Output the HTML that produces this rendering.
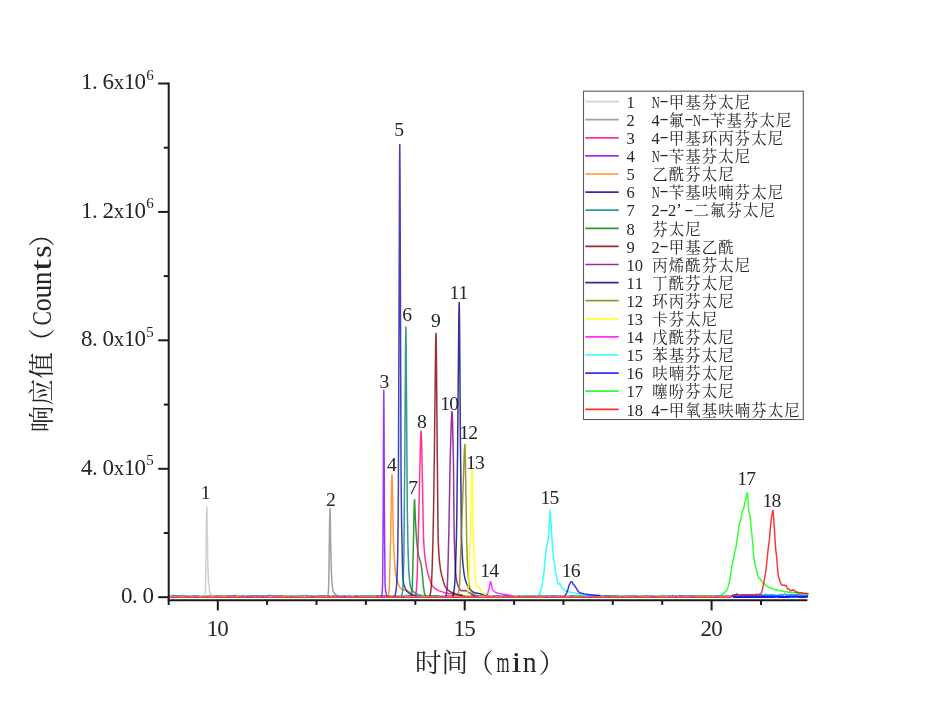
<!DOCTYPE html>
<html lang="zh-CN">
<head>
<meta charset="utf-8">
<title>芬太尼类物质色谱图</title>
<style>
html,body{margin:0;padding:0;background:#ffffff;}
body{width:941px;height:720px;overflow:hidden;}
svg{display:block;filter:blur(0.4px);}
text{white-space:pre;}
</style>
</head>
<body>
<svg width="941" height="720" viewBox="0 0 941 720">
<g fill="none" stroke-linejoin="round" stroke-linecap="round" stroke-width="1.5" stroke-opacity="0.8">
<path d="M176.5 595.8 L179.7 595.7 M206.7 596.3 L210.3 595.6 M269.6 595.4 L273.4 595.7 M276.2 595.7 L279.7 595.9 M290.5 595.9 L294.8 595.9 M294.5 595.9 L297.5 595.9 M297.2 595.9 L300.9 595.7 M300.6 595.7 L303.9 595.6 M311.0 596.0 L313.6 596.1 M345.1 596.2 L349.7 595.6 M362.4 595.7 L366.4 595.6 M366.1 595.6 L370.1 595.7 M369.8 595.7 L374.0 595.8 M373.7 595.8 L377.1 596.0 M383.9 595.7 L387.4 596.0 M388.7 596.0 L393.3 596.0 M396.5 596.2 L398.9 595.9 M402.5 596.2 L406.8 595.5 M406.5 595.5 L409.3 595.6 M412.4 595.5 L416.8 595.9 M416.5 595.9 L418.6 595.9 M418.3 595.9 L420.7 595.5 M431.3 595.7 L435.3 595.7 M451.5 595.8 L453.7 595.8 M471.5 595.9 L473.7 596.0 M477.7 595.9 L480.4 595.7 M480.1 595.7 L482.4 595.6 M482.1 595.6 L486.6 595.6 M491.9 595.9 L494.8 595.9 M497.6 595.6 L500.2 595.8 M527.3 596.0 L530.3 595.8 M530.0 595.8 L534.0 596.0 M537.9 595.8 L540.1 595.5 M539.8 595.5 L542.1 595.7 M555.5 595.9 L558.0 595.8 M557.7 595.8 L560.9 595.9 M574.8 595.7 L578.1 596.1 M579.8 595.7 L582.2 595.9 M596.4 595.9 L601.0 595.6 M600.7 595.6 L605.4 595.8 M608.1 595.8 L610.0 596.3 M611.4 595.7 L614.6 595.8 M621.9 596.1 L625.9 595.8 M625.6 595.8 L627.9 595.8 M627.6 595.8 L632.2 595.6 M631.9 595.6 L634.7 595.8 M644.2 595.8 L648.1 595.6 M654.1 596.1 L658.0 596.1 M660.8 595.6 L664.8 595.8 M664.5 595.8 L669.2 595.9 M676.2 596.1 L679.7 595.6 M691.6 596.0 L694.7 595.7 M694.4 595.7 L697.9 596.0 M697.6 596.0 L700.8 595.7 M704.0 595.8 L707.1 595.8 M710.5 595.8 L713.7 595.9 M713.4 595.9 L716.2 595.7 M718.5 596.0 L721.7 595.5 M726.2 595.6 L730.0 595.9" stroke="#2f8f8a" stroke-width="1.45"/>
<path d="M193.7 595.8 L198.1 595.9 M233.5 595.7 L236.2 595.5 M239.4 596.1 L244.0 595.8 M246.9 596.2 L251.5 595.8 M256.5 595.8 L259.5 596.0 M259.2 596.0 L263.6 596.0 M336.9 595.8 L340.8 596.1 M343.0 595.8 L345.4 596.2 M354.5 595.8 L357.2 596.0 M380.7 596.0 L384.2 595.7 M387.1 596.0 L389.0 596.0 M409.0 595.6 L412.7 595.5 M435.0 595.7 L439.4 595.9 M439.1 595.9 L442.9 596.3 M460.5 595.5 L463.1 595.7 M473.4 596.0 L478.0 595.9 M505.7 595.7 L509.4 596.2 M605.1 595.8 L608.4 595.8 M650.6 596.0 L654.4 596.1 M687.4 595.6 L691.9 596.0" stroke="#3050d0" stroke-width="1.45"/>
<path d="M169.5 595.9 L173.2 595.5 M212.6 595.8 L216.9 595.8 M243.7 595.8 L247.2 596.2 M266.5 595.8 L268.3 595.6 M286.2 596.0 L290.8 595.9 M307.8 596.0 L311.3 596.0 M324.1 595.7 L328.5 595.7 M420.4 595.5 L424.1 595.5 M462.8 595.7 L464.8 595.9 M467.8 596.1 L471.8 595.9 M519.3 595.8 L523.4 596.0 M525.7 595.7 L527.6 596.0 M541.8 595.7 L546.0 596.0 M563.0 596.1 L566.2 596.1 M565.9 596.1 L570.7 596.0 M581.9 595.9 L584.5 595.9 M594.5 596.0 L596.7 595.9 M609.7 596.3 L611.7 595.7 M618.3 595.9 L622.2 596.1 M684.2 595.7 L687.7 595.6" stroke="#40b040" stroke-width="1.45"/>
<path d="M174.8 595.6 L176.8 595.8 M179.4 595.7 L183.1 595.5 M216.6 595.8 L221.3 595.7 M226.4 595.7 L229.4 596.0 M251.2 595.8 L253.5 595.8 M263.3 596.0 L266.8 595.8 M273.1 595.7 L276.5 595.7 M305.7 595.4 L308.1 596.0 M328.2 595.7 L330.2 596.1 M457.4 595.4 L460.8 595.5 M486.3 595.6 L488.4 596.1 M517.3 595.9 L519.6 595.8 M533.7 596.0 L538.2 595.8 M553.4 595.8 L555.8 595.9 M560.6 595.9 L563.3 596.1 M590.3 596.0 L594.8 596.0 M637.4 596.1 L642.1 595.9 M668.9 595.9 L672.8 595.8 M681.0 595.8 L684.5 595.7 M715.9 595.7 L718.8 596.0 M723.0 596.1 L726.5 595.6" stroke="#6868c8" stroke-width="1.45"/>
<path d="M182.8 595.5 L185.3 595.9 M203.6 596.0 L207.0 596.3 M210.0 595.6 L212.9 595.8 M221.0 595.7 L224.7 595.8 M224.4 595.8 L226.7 595.7 M235.9 595.5 L239.7 596.1 M282.0 595.8 L286.5 596.0 M329.9 596.1 L333.3 595.9 M351.2 596.1 L354.8 595.8 M393.0 596.0 L396.8 596.2 M398.6 595.9 L402.8 596.2 M423.8 595.5 L427.6 595.8 M448.1 595.6 L451.8 595.8 M453.4 595.8 L457.7 595.4 M488.1 596.1 L492.2 595.9 M513.4 596.0 L517.6 595.9 M572.6 595.8 L575.1 595.7 M577.8 596.1 L580.1 595.7 M584.2 595.9 L587.5 595.8 M641.8 595.9 L644.5 595.8 M657.7 596.1 L661.1 595.6 M700.5 595.7 L704.3 595.8 M706.8 595.8 L710.8 595.8" stroke="#80a040" stroke-width="1.45"/>
<path d="M187.1 596.1 L190.0 595.8 M189.7 595.8 L194.0 595.8 M197.8 595.9 L202.2 596.1 M201.9 596.1 L203.9 596.0 M303.6 595.6 L306.0 595.4 M340.5 596.1 L343.3 595.8 M349.4 595.6 L351.5 596.1 M360.3 595.9 L362.7 595.7 M378.4 595.8 L381.0 596.0 M427.3 595.8 L431.6 595.7 M442.6 596.3 L446.1 595.8 M499.9 595.8 L503.9 595.8 M509.1 596.2 L513.7 596.0 M523.1 596.0 L526.0 595.7 M647.8 595.6 L650.9 596.0 M721.4 595.5 L723.3 596.1 M729.7 595.9 L732.8 595.7 M732.5 595.7 L733.0 595.9" stroke="#40a0c0" stroke-width="1.45"/>
<path d="M172.9 595.5 L175.1 595.6 M185.0 595.9 L187.4 596.1 M229.1 596.0 L233.8 595.7 M253.2 595.8 L256.8 595.8 M268.0 595.6 L269.9 595.4 M279.4 595.9 L282.3 595.8 M313.3 596.1 L318.1 595.8 M317.8 595.8 L321.1 595.7 M320.8 595.7 L324.4 595.7 M333.0 595.9 L337.2 595.8 M356.9 596.0 L360.6 595.9 M376.8 596.0 L378.7 595.8 M445.8 595.8 L448.4 595.6 M464.5 595.9 L468.1 596.1 M494.5 595.9 L497.9 595.6 M503.6 595.8 L506.0 595.7 M545.7 596.0 L550.5 595.8 M550.2 595.8 L553.7 595.8 M570.4 596.0 L572.9 595.8 M587.2 595.8 L590.6 596.0 M614.3 595.8 L618.6 595.9 M634.4 595.8 L637.7 596.1 M672.5 595.8 L676.5 596.1 M679.4 595.6 L681.3 595.8" stroke="#3c6cc0" stroke-width="1.45"/>
<path d="M204.6 595.6 L204.8 595.3 L205.0 594.4 L205.4 591.6 L205.6 586.2 L206.4 527.3 L206.8 507.1 L207.0 508.7 L207.4 539.6 L207.8 561.9 L208.0 569.6 L208.6 582.5 L209.2 588.7 L209.6 591.1 L210.0 592.6 L210.6 593.9 L211.4 594.9 L212.2 595.4 L213.0 595.6" stroke="#c4c4c4"/>
<path d="M327.6 595.6 L327.8 595.4 L328.2 593.7 L328.4 592.3 L328.6 589.9 L329.0 568.3 L329.6 522.5 L329.8 512.4 L330.0 508.5 L330.2 514.5 L330.6 539.6 L331.2 566.7 L331.6 576.3 L332.2 585.4 L332.6 588.2 L333.0 590.2 L333.4 591.6 L333.8 592.5 L334.6 593.7 L335.6 594.8 L336.8 595.3 L338.0 595.6" stroke="#8a8a8a"/>
<path d="M381.6 595.6 L381.8 595.2 L382.0 594.0 L382.4 589.2 L382.6 583.8 L382.8 566.2 L383.2 511.6 L383.6 413.6 L383.8 390.2 L384.0 413.7 L384.4 511.7 L385.0 580.9 L385.2 586.3 L385.6 590.8 L386.2 593.9 L386.6 595.2 L386.8 595.6" stroke="#8000ff"/>
<path d="M388.4 595.6 L388.6 595.1 L389.0 591.5 L389.4 585.9 L389.6 580.8 L390.8 529.9 L391.6 484.0 L391.8 477.0 L392.0 474.4 L392.2 477.3 L392.4 485.1 L393.2 532.0 L393.6 544.7 L394.0 553.0 L394.8 565.4 L395.4 571.9 L396.0 575.6 L396.8 579.3 L397.8 582.5 L399.0 585.7 L399.6 586.9 L400.2 587.8 L401.4 588.8 L403.0 589.6 L405.0 590.4 L407.8 591.1 L409.2 591.6 L410.0 592.2 L412.0 594.1 L414.0 595.6" stroke="#ff8000"/>
<path d="M394.8 595.6 L395.0 595.4 L395.4 594.3 L396.0 591.0 L396.4 587.8 L396.8 581.8 L397.2 572.5 L397.6 559.6 L398.0 532.9 L398.4 483.8 L399.6 164.4 L399.8 144.4 L400.0 170.6 L401.0 463.8 L401.2 490.7 L401.6 523.1 L402.4 563.3 L402.8 576.5 L403.0 579.6 L403.4 582.3 L403.8 584.2 L405.2 588.2 L405.8 589.5 L406.4 590.5 L407.2 591.5 L408.0 592.3 L408.8 593.0 L410.0 593.7 L411.2 594.2 L413.2 594.9 L414.6 595.3 L416.0 595.6" stroke="#1010b0"/>
<path d="M401.5 595.6 L401.7 595.4 L402.1 594.2 L402.5 591.9 L402.9 588.5 L403.3 579.5 L403.9 553.7 L404.7 467.9 L405.5 352.4 L405.7 334.0 L405.9 327.1 L406.1 338.2 L407.3 509.6 L407.9 544.6 L408.5 563.8 L408.9 572.2 L409.5 579.3 L410.1 584.3 L410.7 587.2 L411.5 589.1 L412.1 590.1 L412.9 591.1 L413.9 592.1 L415.1 593.0 L416.3 593.7 L418.1 594.6 L419.5 595.2 L420.9 595.6" stroke="#008080"/>
<path d="M411.2 595.6 L411.4 595.2 L411.8 592.3 L412.2 587.6 L412.4 583.7 L413.4 544.6 L414.2 505.2 L414.4 499.9 L414.6 499.7 L415.4 519.6 L416.0 530.8 L416.6 539.6 L417.4 547.9 L418.0 552.6 L418.4 554.9 L418.8 556.5 L419.8 559.4 L420.2 560.9 L420.8 563.4 L421.4 566.6 L422.4 574.6 L423.2 584.2 L423.6 588.0 L424.4 592.6 L425.0 594.7 L425.4 595.6" stroke="#008000"/>
<path d="M415.4 595.6 L415.6 595.3 L416.0 593.2 L416.6 587.6 L416.8 584.7 L417.2 574.9 L418.4 532.0 L420.4 446.2 L420.8 433.9 L421.0 431.0 L421.2 431.1 L421.6 441.7 L422.6 489.5 L423.2 524.6 L423.6 539.6 L424.2 549.0 L425.0 557.4 L425.6 561.8 L426.4 566.6 L427.8 573.2 L428.6 576.1 L429.8 579.8 L430.8 582.5 L431.8 584.8 L432.6 586.1 L433.4 587.1 L434.4 588.0 L435.8 589.1 L437.6 590.1 L439.4 590.9 L442.2 591.9 L445.0 592.7 L448.2 593.4 L454.4 594.3 L462.0 595.6" stroke="#ff0080"/>
<path d="M429.8 595.6 L430.0 595.4 L430.2 594.8 L430.8 591.1 L431.2 587.6 L431.6 582.0 L432.2 567.2 L433.0 539.6 L433.6 507.6 L434.4 452.4 L435.6 346.1 L435.8 336.6 L436.0 333.2 L436.2 338.8 L436.4 353.8 L437.2 449.6 L438.0 529.6 L438.2 539.6 L438.6 548.5 L439.0 555.4 L439.6 562.6 L440.6 570.0 L441.6 574.9 L444.2 584.3 L444.8 585.7 L446.0 587.7 L447.0 589.0 L448.2 590.3 L449.4 591.2 L450.8 592.0 L452.6 592.8 L456.6 594.1 L459.4 595.0 L462.0 595.6" stroke="#800000"/>
<path d="M445.9 595.6 L446.1 595.4 L446.5 593.6 L447.1 588.6 L447.3 586.4 L447.7 577.3 L448.9 530.5 L450.1 463.5 L451.3 421.6 L451.7 413.5 L451.9 411.6 L452.1 411.8 L452.5 419.6 L453.3 454.5 L453.5 466.0 L454.1 527.0 L454.3 539.6 L455.1 562.5 L455.5 570.1 L456.1 577.2 L456.9 581.8 L457.3 583.5 L457.9 585.4 L458.5 586.8 L459.1 587.9 L459.9 589.1 L460.7 590.1 L461.3 590.6 L461.9 590.8 L465.3 590.6 L466.1 590.7 L466.9 591.1 L471.9 594.4 L473.5 595.1 L474.9 595.6" stroke="#800080"/>
<path d="M452.8 595.6 L453.0 595.4 L453.2 595.0 L453.8 592.0 L454.4 587.6 L454.8 583.0 L455.6 565.9 L456.4 539.6 L456.8 516.8 L457.6 449.6 L458.8 319.3 L459.0 307.0 L459.2 302.5 L459.4 309.4 L459.6 327.7 L460.4 439.1 L461.4 531.0 L461.6 539.6 L462.0 549.2 L462.6 559.8 L463.2 566.9 L464.2 574.6 L464.8 577.7 L465.4 580.1 L466.4 583.0 L467.6 585.8 L468.6 587.6 L469.8 589.0 L471.2 590.5 L472.4 591.4 L473.6 592.1 L475.0 592.7 L478.6 593.6 L489.0 595.6" stroke="#000080"/>
<path d="M457.9 595.6 L458.1 595.4 L458.3 594.8 L458.9 591.1 L459.3 587.6 L459.7 581.3 L463.1 487.0 L464.1 456.9 L464.5 448.1 L464.7 445.5 L464.9 444.6 L465.1 447.6 L465.3 455.5 L466.7 540.4 L467.3 559.9 L467.7 568.8 L468.1 574.9 L468.7 581.5 L469.1 584.6 L469.7 587.2 L470.5 589.6 L471.1 590.8 L471.7 591.8 L473.1 593.5 L473.9 594.1 L475.1 594.9 L476.1 595.4 L476.9 595.6" stroke="#808000"/>
<path d="M466.8 595.6 L467.0 595.4 L467.4 593.8 L468.2 587.6 L468.6 582.2 L469.0 573.8 L470.4 532.7 L471.4 485.1 L471.8 471.5 L472.0 468.3 L472.2 468.7 L472.4 474.7 L473.4 535.7 L473.8 549.2 L474.6 569.2 L475.0 574.7 L475.6 580.3 L476.2 584.1 L476.6 585.5 L477.0 586.3 L477.4 587.0 L477.8 587.2 L478.6 586.6 L478.8 586.6 L479.0 586.9 L481.0 591.2 L481.6 592.2 L483.0 593.4 L484.6 594.2 L487.0 595.1 L489.0 595.6" stroke="#ffff00"/>
<path d="M486.4 595.6 L486.8 595.1 L487.2 594.5 L488.0 592.5 L489.2 587.6 L490.2 582.5 L490.4 581.9 L490.6 581.7 L490.8 582.0 L491.0 582.7 L492.2 588.2 L492.6 589.6 L493.4 590.8 L494.6 591.8 L496.6 592.8 L498.8 593.4 L502.0 594.0 L507.4 594.7 L512.0 595.6" stroke="#ff00ff" stroke-width="1.45"/>
<path d="M537.6 595.5 L538.3 595.1 L539.0 594.1 L539.7 593.5 L540.4 591.3 L541.1 588.9 L541.8 585.8 L542.5 581.9 L543.9 572.8 L545.3 557.6 L546.0 550.7 L546.7 546.1 L547.4 544.0 L548.1 540.3 L548.8 534.1 L549.5 520.6 L550.2 510.1 L551.6 531.3 L552.3 544.0 L553.7 559.3 L554.4 563.6 L555.1 568.8 L555.8 572.3 L556.5 576.2 L557.2 580.7 L557.9 583.6 L558.6 584.2 L559.3 583.4 L560.0 583.3 L560.7 585.5 L561.4 586.9 L562.1 588.0 L562.8 588.8 L563.5 589.0 L564.2 589.8 L564.9 590.2 L565.6 590.9 L566.3 591.3 L567.0 591.2 L567.7 591.3 L568.4 591.7 L569.1 591.9 L569.8 592.0 L570.5 592.3 L571.2 592.3 L571.9 592.7 L572.6 592.7 L573.3 592.9 L574.7 593.0 L575.4 593.1 L576.1 593.3 L576.8 593.3 L577.5 593.6 L578.2 593.6 L578.9 593.6 L579.6 593.9 L580.3 593.8 L581.0 594.0 L581.7 594.1 L582.4 594.0 L583.1 594.4 L583.8 594.5 L585.2 594.6 L585.9 594.7 L586.6 594.7 L587.3 594.9 L588.0 594.9 L588.7 595.1 L589.4 595.0 L590.1 595.2 L590.8 595.3 L592.2 595.3 L592.9 595.5 L593.6 595.2 L594.3 595.6 L595.7 595.6" stroke="#00ffff" stroke-width="1.45"/>
<path d="M564.8 595.6 L565.5 594.9 L566.2 593.9 L566.9 592.5 L568.3 588.2 L569.0 585.3 L569.7 584.1 L570.4 582.6 L571.1 581.6 L572.5 582.3 L573.2 584.4 L573.9 585.1 L574.6 585.4 L575.3 587.2 L576.0 587.7 L578.1 591.3 L579.5 592.5 L580.2 592.9 L580.9 593.2 L581.6 593.2 L582.3 593.4 L583.0 593.5 L583.7 593.7 L584.4 593.9 L585.8 594.1 L586.5 594.3 L587.2 594.3 L588.6 594.6 L589.3 594.7 L590.0 594.8 L591.4 594.8 L592.1 594.9 L592.8 594.9 L593.5 594.9 L594.2 595.2 L594.9 595.2 L595.6 595.3 L596.3 595.1 L597.0 595.3 L598.4 595.4 L599.1 595.3 L599.8 595.6" stroke="#0000ff" stroke-width="1.45"/>
<path d="M733.0 595.4 L733.8 595.2 L734.6 594.7 L735.4 595.0 L736.2 595.4 L737.0 593.6 L737.8 594.9 L738.6 595.3 L739.4 595.3 L740.2 595.9 L741.0 595.6 L741.8 595.2 L742.6 595.2 L743.4 595.4 L744.2 594.7 L745.0 595.0 L745.8 595.5 L746.6 596.0 L747.4 594.9 L748.2 595.0 L749.0 595.1 L749.8 595.7 L750.6 595.0 L751.4 595.7 L752.2 594.5 L753.0 594.9 L753.8 594.9 L754.6 595.4 L755.4 595.5 L756.2 594.2 L757.0 594.5 L757.8 595.2 L758.6 594.7 L759.4 594.2 L760.2 595.5 L761.0 595.2 L761.8 595.2 L762.6 594.8 L763.4 595.5 L764.2 594.9 L765.0 595.5 L765.8 594.5 L766.6 594.6 L767.4 595.1 L768.2 594.6 L769.0 595.3 L769.8 595.1 L770.6 594.5 L771.4 595.0 L772.2 594.8 L773.0 595.5 L773.8 594.7 L774.6 594.8 L775.4 595.6 L776.2 596.1 L777.0 596.0 L777.8 595.0 L778.6 595.1 L779.4 595.8 L780.2 594.9 L781.0 594.5 L781.8 595.1 L782.6 595.2 L783.4 594.6 L784.2 594.2 L785.0 594.3 L785.8 595.3 L786.6 594.6 L787.4 594.9 L788.2 595.1 L789.0 595.3 L789.8 594.8 L790.6 595.2 L791.4 594.6 L792.2 594.8 L793.0 594.5 L793.8 595.6 L794.6 595.0 L795.4 594.6 L796.2 594.8 L797.0 594.9 L797.8 595.4 L798.6 594.2 L799.4 594.5 L800.2 594.8 L801.0 596.3 L801.8 595.5 L802.6 594.9 L803.4 595.4 L804.2 596.0 L805.0 594.9 L805.8 594.8 L806.6 595.6 L807.4 595.2" stroke="#28a0ff" stroke-width="1.6" stroke-opacity="1"/>
<path d="M733 597.0 733.0 596.9 L735.4 596.7 L737.8 597.0 L740.2 597.0 L742.6 596.9 L745.0 596.9 L747.4 596.6 L749.8 596.9 L752.2 596.8 L754.6 596.9 L757.0 596.9 L759.4 596.8 L761.8 596.6 L764.2 596.8 L766.6 596.7 L769.0 596.8 L771.4 596.7 L773.8 596.8 L776.2 596.5 L778.6 596.9 L781.0 596.8 L783.4 596.9 L785.8 597.0 L788.2 596.8 L790.6 596.6 L793.0 596.7 L795.4 596.7 L797.8 596.7 L800.2 596.8 L802.6 596.6 L805.0 596.8 L807.4 596.6 L808 596.8" stroke="#1414ff" stroke-width="2.2" stroke-opacity="1" stroke-linecap="butt"/>
<path d="M720.5 595.6 L722.6 594.3 L724.0 593.1 L724.7 592.2 L725.4 591.6 L726.1 591.1 L726.8 590.1 L727.5 588.6 L728.2 586.7 L728.9 583.3 L729.6 580.8 L730.3 576.0 L731.0 571.9 L731.7 567.4 L733.1 560.0 L733.8 557.0 L734.5 552.9 L735.2 549.8 L735.9 547.7 L736.6 542.3 L738.0 533.5 L738.7 527.9 L739.4 523.1 L740.1 522.2 L740.8 519.7 L741.5 515.3 L742.2 511.5 L742.9 510.6 L743.6 508.7 L744.3 505.6 L745.0 501.5 L745.7 500.5 L746.4 495.4 L747.1 492.7 L747.8 495.0 L748.5 507.3 L749.2 512.7 L749.9 515.3 L750.6 520.2 L751.3 529.1 L752.0 535.7 L752.7 543.1 L753.4 552.6 L754.1 559.4 L754.8 563.1 L755.5 567.1 L756.2 568.9 L757.6 574.5 L758.3 576.3 L759.0 578.5 L759.7 578.7 L760.4 579.0 L761.1 580.5 L761.8 581.2 L762.5 581.8 L763.2 583.5 L763.9 583.5 L764.6 583.4 L765.3 585.4 L766.0 585.4 L766.7 586.1 L767.4 586.4 L768.1 587.0 L768.8 587.1 L769.5 587.9 L770.2 587.9 L771.6 588.5 L772.3 588.1 L773.0 588.8 L773.7 589.1 L774.4 589.4 L775.1 589.2 L775.8 590.3 L776.5 590.0 L777.2 589.8 L777.9 589.9 L778.6 590.4 L779.3 590.6 L780.0 590.6 L780.7 591.0 L781.4 590.9 L782.1 591.3 L782.8 591.2 L783.5 591.4 L784.2 591.8 L784.9 592.2 L785.6 591.6 L786.3 591.8 L787.0 591.8 L787.7 592.2 L788.4 592.0 L789.1 592.2 L789.8 592.3 L790.5 592.2 L791.2 592.3 L791.9 592.5 L792.6 592.3 L793.3 592.5 L794.0 592.7 L794.7 592.8 L795.4 592.8 L796.1 592.7 L797.5 593.1 L798.2 593.2 L799.6 593.0 L800.3 593.3 L801.0 593.2 L801.7 593.1 L802.4 593.2 L803.1 593.6 L803.8 593.5 L804.5 593.6 L805.2 593.4 L805.9 593.7 L806.6 593.5 L807.3 593.6 L808.0 594.0" stroke="#00ff00" stroke-width="1.45"/>
<path d="M169.6 597.3 L730.3 597.3 L731.0 597.2 L731.7 596.5 L732.4 595.6 L733.1 595.0 L733.8 594.9 L738.7 594.8 L745.0 594.8 L756.9 594.9 L757.6 594.6 L758.3 595.1 L759.7 594.6 L760.4 594.2 L761.1 593.4 L761.8 591.7 L762.5 589.3 L763.2 585.1 L763.9 582.2 L764.6 578.7 L765.3 573.9 L766.0 569.8 L766.7 562.8 L767.4 556.4 L768.1 549.3 L769.5 538.9 L770.2 529.0 L771.6 516.3 L772.3 512.9 L773.0 510.3 L773.7 518.7 L775.1 540.1 L775.8 550.1 L776.5 555.7 L777.2 564.5 L777.9 571.6 L778.6 577.7 L779.3 578.5 L780.0 581.8 L780.7 582.7 L781.4 584.9 L782.1 585.0 L782.8 585.3 L783.5 585.2 L784.2 584.9 L784.9 585.8 L785.6 585.6 L786.3 585.3 L787.0 587.8 L787.7 589.0 L788.4 588.8 L789.1 589.1 L789.8 590.4 L790.5 590.6 L791.2 590.5 L791.9 590.5 L792.6 589.8 L793.3 590.0 L794.0 590.0 L794.7 590.6 L795.4 591.7 L796.1 591.7 L796.8 592.5 L797.5 592.2 L798.2 592.2 L798.9 592.6 L799.6 592.9 L800.3 592.8 L801.0 592.6 L801.7 593.0 L802.4 593.2 L803.1 593.0 L803.8 593.1 L804.5 593.4 L805.2 593.4 L805.9 593.3 L806.6 593.4 L807.3 593.4 L808.0 593.6" stroke="#ff0000" stroke-width="1.45"/>
</g>
<g stroke="#1a1a1a" stroke-width="2" fill="none" stroke-linecap="butt">
<path d="M168.7 82.5 V605.0"/>
<path d="M167.7 600.2 H807.4"/>
<path d="M158.2 597.2 H168.7"/>
<path d="M163.8 533.0 H168.7"/>
<path d="M158.2 468.8 H168.7"/>
<path d="M163.8 404.6 H168.7"/>
<path d="M158.2 340.3 H168.7"/>
<path d="M163.8 276.1 H168.7"/>
<path d="M158.2 211.9 H168.7"/>
<path d="M163.8 147.7 H168.7"/>
<path d="M158.2 83.5 H168.7"/>
<path d="M217.8 600.2 V610.4"/>
<path d="M267.1 600.2 V604.9"/>
<path d="M316.5 600.2 V604.9"/>
<path d="M365.9 600.2 V604.9"/>
<path d="M415.3 600.2 V604.9"/>
<path d="M464.7 600.2 V610.4"/>
<path d="M514.1 600.2 V604.9"/>
<path d="M563.4 600.2 V604.9"/>
<path d="M612.8 600.2 V604.9"/>
<path d="M662.2 600.2 V604.9"/>
<path d="M711.6 600.2 V610.4"/>
<path d="M761.0 600.2 V604.9"/>
</g>
<g font-family='"Liberation Serif", "Noto Serif CJK SC", serif' fill="#262626">
<text y="636.30" font-size="23.00" text-anchor="middle"><tspan x="212.42">1</tspan><tspan x="223.09">0</tspan></text>
<text y="636.30" font-size="23.00" text-anchor="middle"><tspan x="459.34">1</tspan><tspan x="470.01">5</tspan></text>
<text y="636.30" font-size="23.00" text-anchor="middle"><tspan x="706.26">2</tspan><tspan x="716.93">0</tspan></text>
<text y="89.48" font-size="23.00" text-anchor="middle"><tspan x="86.83">1</tspan><tspan x="94.77">.</tspan><tspan x="108.17">6</tspan><tspan x="118.84" font-size="20.80">x</tspan><tspan x="129.51">1</tspan><tspan x="140.19">0</tspan><tspan x="150.10" y="79.78" font-size="15.00">6</tspan></text>
<text y="217.91" font-size="23.00" text-anchor="middle"><tspan x="86.83">1</tspan><tspan x="94.77">.</tspan><tspan x="108.17">2</tspan><tspan x="118.84" font-size="20.80">x</tspan><tspan x="129.51">1</tspan><tspan x="140.19">0</tspan><tspan x="150.10" y="208.21" font-size="15.00">6</tspan></text>
<text y="346.34" font-size="23.00" text-anchor="middle"><tspan x="86.83">8</tspan><tspan x="94.77">.</tspan><tspan x="108.17">0</tspan><tspan x="118.84" font-size="20.80">x</tspan><tspan x="129.51">1</tspan><tspan x="140.19">0</tspan><tspan x="150.10" y="336.64" font-size="15.00">5</tspan></text>
<text y="474.77" font-size="23.00" text-anchor="middle"><tspan x="86.83">4</tspan><tspan x="94.77">.</tspan><tspan x="108.17">0</tspan><tspan x="118.84" font-size="20.80">x</tspan><tspan x="129.51">1</tspan><tspan x="140.19">0</tspan><tspan x="150.10" y="465.07" font-size="15.00">5</tspan></text>
<text y="603.20" font-size="23.00" text-anchor="middle"><tspan x="126.83">0</tspan><tspan x="134.77">.</tspan><tspan x="148.17">0</tspan></text>
<text y="499.00" font-size="19.60" text-anchor="middle"><tspan x="205.60">1</tspan></text>
<text y="506.00" font-size="19.60" text-anchor="middle"><tspan x="330.80">2</tspan></text>
<text y="388.30" font-size="19.60" text-anchor="middle"><tspan x="384.40">3</tspan></text>
<text y="470.60" font-size="19.60" text-anchor="middle"><tspan x="391.80">4</tspan></text>
<text y="136.40" font-size="19.60" text-anchor="middle"><tspan x="399.10">5</tspan></text>
<text y="320.70" font-size="19.60" text-anchor="middle"><tspan x="407.20">6</tspan></text>
<text y="493.50" font-size="19.60" text-anchor="middle"><tspan x="413.20">7</tspan></text>
<text y="428.00" font-size="19.60" text-anchor="middle"><tspan x="422.00">8</tspan></text>
<text y="326.70" font-size="19.60" text-anchor="middle"><tspan x="436.00">9</tspan></text>
<text y="410.20" font-size="19.60" text-anchor="middle"><tspan x="445.10">1</tspan><tspan x="454.10">0</tspan></text>
<text y="299.00" font-size="19.60" text-anchor="middle"><tspan x="454.50">1</tspan><tspan x="463.50">1</tspan></text>
<text y="439.40" font-size="19.60" text-anchor="middle"><tspan x="464.10">1</tspan><tspan x="473.10">2</tspan></text>
<text y="469.10" font-size="19.60" text-anchor="middle"><tspan x="471.00">1</tspan><tspan x="480.00">3</tspan></text>
<text y="577.40" font-size="19.60" text-anchor="middle"><tspan x="485.20">1</tspan><tspan x="494.20">4</tspan></text>
<text y="504.30" font-size="19.60" text-anchor="middle"><tspan x="545.50">1</tspan><tspan x="554.50">5</tspan></text>
<text y="577.20" font-size="19.60" text-anchor="middle"><tspan x="566.60">1</tspan><tspan x="575.60">6</tspan></text>
<text y="485.20" font-size="19.60" text-anchor="middle"><tspan x="742.10">1</tspan><tspan x="751.10">7</tspan></text>
<text y="507.30" font-size="19.60" text-anchor="middle"><tspan x="767.30">1</tspan><tspan x="776.30">8</tspan></text>
<text y="671.90" font-size="26.60" text-anchor="middle"><tspan x="428.33">时</tspan><tspan x="454.90">间</tspan><tspan x="480.47">（</tspan><tspan x="503.08" font-size="29.40" textLength="13.03" lengthAdjust="spacingAndGlyphs">m</tspan><tspan x="516.41" font-size="29.40" textLength="9.98" lengthAdjust="spacingAndGlyphs">i</tspan><tspan x="529.75" font-size="29.40" textLength="13.83" lengthAdjust="spacingAndGlyphs">n</tspan><tspan x="552.15">）</tspan></text>
<g transform="translate(51.0 432.2) rotate(-90)">
<text y="0.00" font-size="26.60" text-anchor="middle"><tspan x="13.34">响</tspan><tspan x="40.01">应</tspan><tspan x="66.68">值</tspan><tspan x="90.75">（</tspan><tspan x="113.95" textLength="14.36" lengthAdjust="spacingAndGlyphs">C</tspan><tspan x="127.28" font-size="29.40" textLength="12.87" lengthAdjust="spacingAndGlyphs">o</tspan><tspan x="140.62" font-size="29.40" textLength="13.83" lengthAdjust="spacingAndGlyphs">u</tspan><tspan x="153.95" font-size="29.40" textLength="13.83" lengthAdjust="spacingAndGlyphs">n</tspan><tspan x="167.29" font-size="29.40" textLength="11.44" lengthAdjust="spacingAndGlyphs">t</tspan><tspan x="180.62" font-size="29.40" textLength="12.37" lengthAdjust="spacingAndGlyphs">s</tspan><tspan x="198.62">）</tspan></text>
</g>
</g>
<rect x="583.5" y="91.2" width="219.8" height="328.3" fill="#ffffff" stroke="#5a5a5a" stroke-width="1.1"/>
<g font-family='"Liberation Serif", "Noto Serif CJK SC", serif' fill="#262626">
<path d="M585.3 101.6 H618.7" stroke="#c8c8c8" stroke-width="1.7" stroke-opacity="0.82" fill="none"/>
<text y="107.80" font-size="16.50" text-anchor="middle"><tspan x="630.73">1</tspan></text>
<text y="107.80" font-size="16.50" text-anchor="middle"><tspan x="655.73" textLength="7.92" lengthAdjust="spacingAndGlyphs">N</tspan><tspan x="663.98" y="105.90" textLength="9.08" lengthAdjust="spacingAndGlyphs">-</tspan><tspan x="676.35" y="107.80" font-size="15.40">甲</tspan><tspan x="692.85" font-size="15.40">基</tspan><tspan x="709.35" font-size="15.40">芬</tspan><tspan x="725.85" font-size="15.40">太</tspan><tspan x="742.35" font-size="15.40">尼</tspan></text>
<path d="M585.3 119.7 H618.7" stroke="#8c8c8c" stroke-width="1.7" stroke-opacity="0.82" fill="none"/>
<text y="125.90" font-size="16.50" text-anchor="middle"><tspan x="630.73">2</tspan></text>
<text y="125.90" font-size="16.50" text-anchor="middle"><tspan x="655.73">4</tspan><tspan x="663.98" y="124.00" textLength="9.08" lengthAdjust="spacingAndGlyphs">-</tspan><tspan x="676.35" y="125.90" font-size="15.40">氟</tspan><tspan x="688.73" y="124.00" textLength="9.08" lengthAdjust="spacingAndGlyphs">-</tspan><tspan x="696.98" y="125.90" textLength="7.92" lengthAdjust="spacingAndGlyphs">N</tspan><tspan x="705.23" y="124.00" textLength="9.08" lengthAdjust="spacingAndGlyphs">-</tspan><tspan x="717.60" y="125.90" font-size="15.40">苄</tspan><tspan x="734.10" font-size="15.40">基</tspan><tspan x="750.60" font-size="15.40">芬</tspan><tspan x="767.10" font-size="15.40">太</tspan><tspan x="783.60" font-size="15.40">尼</tspan></text>
<path d="M585.3 137.8 H618.7" stroke="#ff0080" stroke-width="1.7" stroke-opacity="0.82" fill="none"/>
<text y="144.00" font-size="16.50" text-anchor="middle"><tspan x="630.73">3</tspan></text>
<text y="144.00" font-size="16.50" text-anchor="middle"><tspan x="655.73">4</tspan><tspan x="663.98" y="142.10" textLength="9.08" lengthAdjust="spacingAndGlyphs">-</tspan><tspan x="676.35" y="144.00" font-size="15.40">甲</tspan><tspan x="692.85" font-size="15.40">基</tspan><tspan x="709.35" font-size="15.40">环</tspan><tspan x="725.85" font-size="15.40">丙</tspan><tspan x="742.35" font-size="15.40">芬</tspan><tspan x="758.85" font-size="15.40">太</tspan><tspan x="775.35" font-size="15.40">尼</tspan></text>
<path d="M585.3 155.9 H618.7" stroke="#8000ff" stroke-width="1.7" stroke-opacity="0.82" fill="none"/>
<text y="162.10" font-size="16.50" text-anchor="middle"><tspan x="630.73">4</tspan></text>
<text y="162.10" font-size="16.50" text-anchor="middle"><tspan x="655.73" textLength="7.92" lengthAdjust="spacingAndGlyphs">N</tspan><tspan x="663.98" y="160.20" textLength="9.08" lengthAdjust="spacingAndGlyphs">-</tspan><tspan x="676.35" y="162.10" font-size="15.40">苄</tspan><tspan x="692.85" font-size="15.40">基</tspan><tspan x="709.35" font-size="15.40">芬</tspan><tspan x="725.85" font-size="15.40">太</tspan><tspan x="742.35" font-size="15.40">尼</tspan></text>
<path d="M585.3 174.0 H618.7" stroke="#ff8000" stroke-width="1.7" stroke-opacity="0.82" fill="none"/>
<text y="180.20" font-size="16.50" text-anchor="middle"><tspan x="630.73">5</tspan></text>
<text y="180.20" font-size="16.50" text-anchor="middle"><tspan x="659.85" font-size="15.40">乙</tspan><tspan x="676.35" font-size="15.40">酰</tspan><tspan x="692.85" font-size="15.40">芬</tspan><tspan x="709.35" font-size="15.40">太</tspan><tspan x="725.85" font-size="15.40">尼</tspan></text>
<path d="M585.3 192.1 H618.7" stroke="#0000a0" stroke-width="1.7" stroke-opacity="0.82" fill="none"/>
<text y="198.30" font-size="16.50" text-anchor="middle"><tspan x="630.73">6</tspan></text>
<text y="198.30" font-size="16.50" text-anchor="middle"><tspan x="655.73" textLength="7.92" lengthAdjust="spacingAndGlyphs">N</tspan><tspan x="663.98" y="196.40" textLength="9.08" lengthAdjust="spacingAndGlyphs">-</tspan><tspan x="676.35" y="198.30" font-size="15.40">苄</tspan><tspan x="692.85" font-size="15.40">基</tspan><tspan x="709.35" font-size="15.40">呋</tspan><tspan x="725.85" font-size="15.40">喃</tspan><tspan x="742.35" font-size="15.40">芬</tspan><tspan x="758.85" font-size="15.40">太</tspan><tspan x="775.35" font-size="15.40">尼</tspan></text>
<path d="M585.3 210.2 H618.7" stroke="#008080" stroke-width="1.7" stroke-opacity="0.82" fill="none"/>
<text y="216.40" font-size="16.50" text-anchor="middle"><tspan x="630.73">7</tspan></text>
<text y="216.40" font-size="16.50" text-anchor="middle"><tspan x="655.73">2</tspan><tspan x="663.98" y="214.50" textLength="9.08" lengthAdjust="spacingAndGlyphs">-</tspan><tspan x="672.23" y="216.40">2</tspan><tspan x="679.08" y="215.40">’</tspan><tspan x="688.73" y="214.50" textLength="9.08" lengthAdjust="spacingAndGlyphs">-</tspan><tspan x="701.10" y="216.40" font-size="15.40">二</tspan><tspan x="717.60" font-size="15.40">氟</tspan><tspan x="734.10" font-size="15.40">芬</tspan><tspan x="750.60" font-size="15.40">太</tspan><tspan x="767.10" font-size="15.40">尼</tspan></text>
<path d="M585.3 228.3 H618.7" stroke="#008000" stroke-width="1.7" stroke-opacity="0.82" fill="none"/>
<text y="234.50" font-size="16.50" text-anchor="middle"><tspan x="630.73">8</tspan></text>
<text y="234.50" font-size="16.50" text-anchor="middle"><tspan x="659.85" font-size="15.40">芬</tspan><tspan x="676.35" font-size="15.40">太</tspan><tspan x="692.85" font-size="15.40">尼</tspan></text>
<path d="M585.3 246.4 H618.7" stroke="#800000" stroke-width="1.7" stroke-opacity="0.82" fill="none"/>
<text y="252.60" font-size="16.50" text-anchor="middle"><tspan x="630.73">9</tspan></text>
<text y="252.60" font-size="16.50" text-anchor="middle"><tspan x="655.73">2</tspan><tspan x="663.98" y="250.70" textLength="9.08" lengthAdjust="spacingAndGlyphs">-</tspan><tspan x="676.35" y="252.60" font-size="15.40">甲</tspan><tspan x="692.85" font-size="15.40">基</tspan><tspan x="709.35" font-size="15.40">乙</tspan><tspan x="725.85" font-size="15.40">酰</tspan></text>
<path d="M585.3 264.5 H618.7" stroke="#800080" stroke-width="1.7" stroke-opacity="0.82" fill="none"/>
<text y="270.70" font-size="16.50" text-anchor="middle"><tspan x="630.73">1</tspan><tspan x="638.98">0</tspan></text>
<text y="270.70" font-size="16.50" text-anchor="middle"><tspan x="659.85" font-size="15.40">丙</tspan><tspan x="676.35" font-size="15.40">烯</tspan><tspan x="692.85" font-size="15.40">酰</tspan><tspan x="709.35" font-size="15.40">芬</tspan><tspan x="725.85" font-size="15.40">太</tspan><tspan x="742.35" font-size="15.40">尼</tspan></text>
<path d="M585.3 282.6 H618.7" stroke="#000080" stroke-width="1.7" stroke-opacity="0.82" fill="none"/>
<text y="288.80" font-size="16.50" text-anchor="middle"><tspan x="630.73">1</tspan><tspan x="638.98">1</tspan></text>
<text y="288.80" font-size="16.50" text-anchor="middle"><tspan x="659.85" font-size="15.40">丁</tspan><tspan x="676.35" font-size="15.40">酰</tspan><tspan x="692.85" font-size="15.40">芬</tspan><tspan x="709.35" font-size="15.40">太</tspan><tspan x="725.85" font-size="15.40">尼</tspan></text>
<path d="M585.3 300.7 H618.7" stroke="#808000" stroke-width="1.7" stroke-opacity="0.82" fill="none"/>
<text y="306.90" font-size="16.50" text-anchor="middle"><tspan x="630.73">1</tspan><tspan x="638.98">2</tspan></text>
<text y="306.90" font-size="16.50" text-anchor="middle"><tspan x="659.85" font-size="15.40">环</tspan><tspan x="676.35" font-size="15.40">丙</tspan><tspan x="692.85" font-size="15.40">芬</tspan><tspan x="709.35" font-size="15.40">太</tspan><tspan x="725.85" font-size="15.40">尼</tspan></text>
<path d="M585.3 318.8 H618.7" stroke="#ffff00" stroke-width="1.7" stroke-opacity="0.82" fill="none"/>
<text y="325.00" font-size="16.50" text-anchor="middle"><tspan x="630.73">1</tspan><tspan x="638.98">3</tspan></text>
<text y="325.00" font-size="16.50" text-anchor="middle"><tspan x="659.85" font-size="15.40">卡</tspan><tspan x="676.35" font-size="15.40">芬</tspan><tspan x="692.85" font-size="15.40">太</tspan><tspan x="709.35" font-size="15.40">尼</tspan></text>
<path d="M585.3 336.9 H618.7" stroke="#ff00ff" stroke-width="1.7" stroke-opacity="0.82" fill="none"/>
<text y="343.10" font-size="16.50" text-anchor="middle"><tspan x="630.73">1</tspan><tspan x="638.98">4</tspan></text>
<text y="343.10" font-size="16.50" text-anchor="middle"><tspan x="659.85" font-size="15.40">戊</tspan><tspan x="676.35" font-size="15.40">酰</tspan><tspan x="692.85" font-size="15.40">芬</tspan><tspan x="709.35" font-size="15.40">太</tspan><tspan x="725.85" font-size="15.40">尼</tspan></text>
<path d="M585.3 355.0 H618.7" stroke="#00ffff" stroke-width="1.7" stroke-opacity="0.82" fill="none"/>
<text y="361.20" font-size="16.50" text-anchor="middle"><tspan x="630.73">1</tspan><tspan x="638.98">5</tspan></text>
<text y="361.20" font-size="16.50" text-anchor="middle"><tspan x="659.85" font-size="15.40">苯</tspan><tspan x="676.35" font-size="15.40">基</tspan><tspan x="692.85" font-size="15.40">芬</tspan><tspan x="709.35" font-size="15.40">太</tspan><tspan x="725.85" font-size="15.40">尼</tspan></text>
<path d="M585.3 373.1 H618.7" stroke="#0000ff" stroke-width="1.7" stroke-opacity="0.82" fill="none"/>
<text y="379.30" font-size="16.50" text-anchor="middle"><tspan x="630.73">1</tspan><tspan x="638.98">6</tspan></text>
<text y="379.30" font-size="16.50" text-anchor="middle"><tspan x="659.85" font-size="15.40">呋</tspan><tspan x="676.35" font-size="15.40">喃</tspan><tspan x="692.85" font-size="15.40">芬</tspan><tspan x="709.35" font-size="15.40">太</tspan><tspan x="725.85" font-size="15.40">尼</tspan></text>
<path d="M585.3 391.2 H618.7" stroke="#00ff00" stroke-width="1.7" stroke-opacity="0.82" fill="none"/>
<text y="397.40" font-size="16.50" text-anchor="middle"><tspan x="630.73">1</tspan><tspan x="638.98">7</tspan></text>
<text y="397.40" font-size="16.50" text-anchor="middle"><tspan x="659.85" font-size="15.40">噻</tspan><tspan x="676.35" font-size="15.40">吩</tspan><tspan x="692.85" font-size="15.40">芬</tspan><tspan x="709.35" font-size="15.40">太</tspan><tspan x="725.85" font-size="15.40">尼</tspan></text>
<path d="M585.3 409.3 H618.7" stroke="#ff0000" stroke-width="1.7" stroke-opacity="0.82" fill="none"/>
<text y="415.50" font-size="16.50" text-anchor="middle"><tspan x="630.73">1</tspan><tspan x="638.98">8</tspan></text>
<text y="415.50" font-size="16.50" text-anchor="middle"><tspan x="655.73">4</tspan><tspan x="663.98" y="413.60" textLength="9.08" lengthAdjust="spacingAndGlyphs">-</tspan><tspan x="676.35" y="415.50" font-size="15.40">甲</tspan><tspan x="692.85" font-size="15.40">氧</tspan><tspan x="709.35" font-size="15.40">基</tspan><tspan x="725.85" font-size="15.40">呋</tspan><tspan x="742.35" font-size="15.40">喃</tspan><tspan x="758.85" font-size="15.40">芬</tspan><tspan x="775.35" font-size="15.40">太</tspan><tspan x="791.85" font-size="15.40">尼</tspan></text>
</g>
</svg>
</body>
</html>
